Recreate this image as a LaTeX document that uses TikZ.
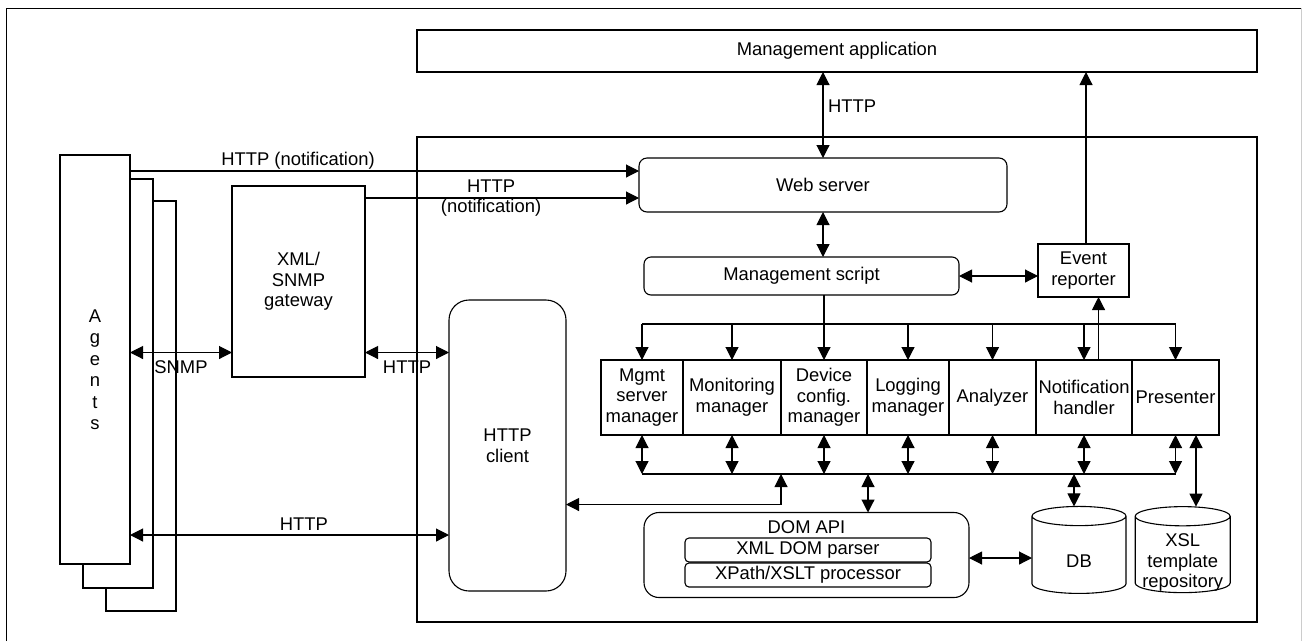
\documentclass[tikz,border=0pt]{standalone}
\usepackage{fontspec}
\setmainfont{Liberation Sans}
\usetikzlibrary{arrows.meta, positioning, shapes.geometric}
\newcommand{\boxfont}{\fontsize{18.4}{20.7}\selectfont}
\tikzstyle{every node} = [font=\boxfont, align=center, inner sep=0pt, outer sep=0pt]
\tikzstyle{block} = [draw, fill=white]
\tikzstyle{rblock} = [draw, rounded corners=8pt]
\tikzstyle{module} = [draw, minimum height=75pt]
\tikzstyle{store} = [draw, cylinder, shape border rotate=90, aspect=0.24, text width=80pt]
\tikzstyle{tag} = [inner sep=2pt]

\begin{document}
\begin{tikzpicture}[x=1pt, y=-1pt, line width=1.1pt, >={Triangle[length=13pt, width=13pt]}]
    \useasboundingbox (0,0) rectangle (1303,641);
    \draw[line width=1pt] (6,641) -- (6,8) -- (1301,8);
    \draw[line width=1pt, gray!40] (1301,8) -- (1301,641);

    % management side
    \node[block, minimum width=840pt, minimum height=42pt] (app) at (837,51) {Management application};
    \draw (417,137) rectangle (1257,622);
    \node[rblock, minimum width=368pt, minimum height=54pt] (ws) at (823,185) {Web server};
    \node[rblock, rounded corners=7pt, minimum width=315pt, minimum height=38pt] (script) at (801.5,276) {Management script};
    \node[block, minimum width=91pt, minimum height=53pt] (ev) at (1083.5,270.5) {Event\\reporter};

    \node[module, minimum width=82pt] (mgmt) at (642,397.5) {Mgmt\\server\\manager};
    \node[module, minimum width=98pt, right=0pt of mgmt] (mon) {Monitoring\\manager};
    \node[module, minimum width=86pt, right=0pt of mon] (dev) {Device\\config.\\manager};
    \node[module, minimum width=82pt, right=0pt of dev] (log) {Logging\\manager};
    \node[module, minimum width=87pt, right=0pt of log] (ana) {Analyzer};
    \node[module, minimum width=96pt, right=0pt of ana] (notif) {Notification\\handler};
    \node[module, minimum width=87pt, right=0pt of notif] (pres) {Presenter};

    \node[rblock, rounded corners=20pt, minimum width=117pt, minimum height=291pt] (hc) at (507.5,445.5) {HTTP\\client};
    \node[rblock, rounded corners=15pt, minimum width=325pt, minimum height=85pt] (dom) at (806.5,555) {};
    \node (domtitle) at (806.5,527) {DOM API};
    \node[rblock, rounded corners=4pt, minimum width=246pt, minimum height=24pt] (parser) at (808,550) {XML DOM parser};
    \node[rblock, rounded corners=4pt, minimum width=246pt, minimum height=24pt] (xslt) at (808,575) {XPath/XSLT processor};
    \node[store, minimum width=94pt, minimum height=87pt,
        label={[name=dbtext, yshift=-6pt]center:DB}] (db) at (1079,555) {};
    \node[store, minimum width=95pt, minimum height=86pt,
        label={[name=xsltext, yshift=-8pt]center:XSL\\template\\repository}] (xsl) at (1182.7,554.7) {};

    % agents side
    \node[block, minimum width=70pt, minimum height=410pt] (ag3) at (141,406) {};
    \node[block, minimum width=70pt, minimum height=409pt] (ag2) at (118,383.5) {};
    \node[block, minimum width=70pt, minimum height=409pt,
        label={[name=agtext, yshift=-10pt, font=\fontsize{18.4}{21.5}\selectfont]center:A\\g\\e\\n\\t\\s}] (ag1) at (95,359.5) {};
    \node[block, minimum width=133pt, minimum height=191pt] (gw) at (298.5,281.5) {XML/\\SNMP\\gateway};

    % connectors
    \coordinate (topbus) at (0,324);
    \coordinate (lowbus) at (0,474);
    \draw[<->] (ws.north) -- (ws.north |- app.south) node[tag, right=3pt, pos=0.6] {HTTP};
    \draw[<->] (ws.south) -- (ws.south |- script.north);
    \draw[<->] (script.east) -- (script.east -| ev.west);
    \draw[->] ([xshift=2.5pt]ev.north) -- ([xshift=2.5pt]ev.north |- app.south);
    \draw[->] ([xshift=14.5pt]notif.north) -- ([xshift=14.5pt]notif.north |- ev.south);

    \draw (mgmt.north |- topbus) -- (pres.north |- topbus);
    \draw[->] (dev.north |- script.south) -- (dev.north);
    \foreach \m in {mgmt, mon, log, ana, notif, pres}
        \draw[->] (\m.north |- topbus) -- (\m.north);
    \draw (mgmt.south |- lowbus) -- (pres.south |- lowbus);
    \foreach \m in {mgmt, mon, dev, log, ana, notif, pres}
        \draw[<->] (\m.south) -- (\m.south |- lowbus);

    \draw[<->] (mon.south east |- lowbus) |- ([yshift=-59pt]hc.east);
    \draw[<->] ([xshift=61.5pt]dom.north) -- ([xshift=61.5pt]dom.north |- lowbus);
    \draw[<->] ([xshift=-5pt]db.north) -- ([xshift=-5pt]db.north |- lowbus);
    \draw[<->] ([yshift=-3pt]dom.east) -- ([yshift=-3pt]dom.east -| db.west);
    \draw[<->] ([xshift=20.5pt]pres.south) -- ([xshift=20.5pt]pres.south |- xsl.north);

    \draw[->] ([yshift=-16pt]ag1.north east) -- ([yshift=-16pt]ag1.north east -| ws.west)
        node[tag, above, pos=0.33] {HTTP (notification)};
    \draw[->] ([yshift=-12pt]gw.north east) -- ([yshift=-12pt]gw.north east -| ws.west)
        node[tag, pos=0.46] {HTTP\\(notification)};
    \draw[<->] ([yshift=-71pt]gw.west -| ag1.east) -- ([yshift=-71pt]gw.west)
        node[tag, below=6pt, midway] {SNMP};
    \draw[<->] ([yshift=-71pt]gw.east) -- ([yshift=-71pt]gw.east -| hc.west)
        node[tag, below=6pt, midway] {HTTP};
    \draw[<->] ([yshift=29pt]ag1.south east) -- ([yshift=29pt]ag1.south east -| hc.west)
        node[tag, above=3pt, pos=0.545] {HTTP};
\end{tikzpicture}
\end{document}
